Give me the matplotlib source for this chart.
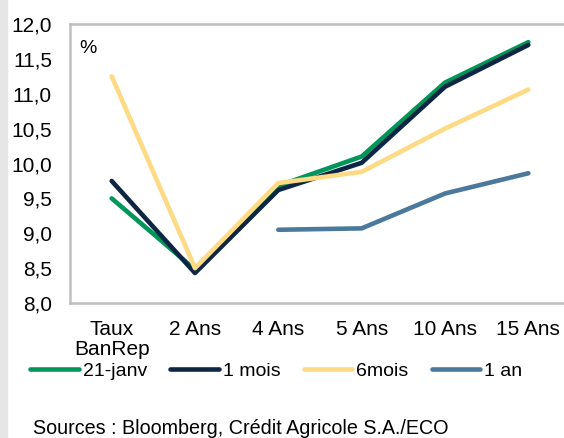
from matplotlib import pyplot as plt
from matplotlib.patches import Rectangle
import numpy as np

plt.rcParams['font.family'] = ['Liberation Sans', 'DejaVu Sans']

categories = ['Taux\nBanRep', '2 Ans', '4 Ans', '5 Ans', '10 Ans', '15 Ans']
jan21 = [9.50, 8.48, 9.68, 10.10, 11.16, 11.74]
mois1 = [9.75, 8.43, 9.62, 10.01, 11.10, 11.70]
mois6 = [11.25, 8.50, 9.72, 9.88, 10.50, 11.06]
an1 = [np.nan, np.nan, 9.05, 9.07, 9.57, 9.86]

series = [
    ('21-janv', jan21, '#00965A'),
    ('1 mois', mois1, '#0C2644'),
    ('6mois', mois6, '#FFDA85'),
    ('1 an', an1, '#4B799B'),
]

FS_TICK = 15
FS = 14

fig = plt.figure(figsize=(5.64, 4.38), dpi=100)
fig.patches.append(Rectangle((0, 0), 7 / 564, 1, transform=fig.transFigure,
                             color='#E6E6E6', zorder=0))
ax = fig.add_axes([70 / 564, 1 - 303 / 438, 500 / 564, 279 / 438])

x = np.arange(len(categories))
for label, vals, color in series:
    ax.plot(x, vals, color=color, lw=3.3, label=label, solid_capstyle='round',
            solid_joinstyle='round')

yt = np.arange(8.0, 12.01, 0.5)
ax.set_xlim(-0.5, len(categories) - 0.5)
ax.set_ylim(8.0, 12.0)
ax.set_yticks(yt)
ax.set_yticklabels([f'{v:.1f}'.replace('.', ',') for v in yt], fontsize=FS_TICK)
ax.set_xticks(x)
ax.set_xticklabels(categories, fontsize=FS_TICK, linespacing=1.1)
ax.tick_params(length=0, axis='y', pad=13)
ax.tick_params(length=0, axis='x', pad=12)
for side in ['left', 'top', 'bottom', 'right']:
    ax.spines[side].set_color('#BFBFBF')
    ax.spines[side].set_linewidth(1.8)

ax.text(0.018, 0.912, '%', transform=ax.transAxes, fontsize=FS, va='center', ha='left')

fig.legend(loc='center left', bbox_to_anchor=(30 / 564, 1 - 371 / 438), ncol=4,
           frameon=False, fontsize=FS, handlelength=2.5, handletextpad=0.2,
           columnspacing=1.2, borderaxespad=0, borderpad=0)

fig.text(33 / 564, 1 - 428 / 438, 'Sources : Bloomberg, Crédit Agricole S.A./ECO',
         fontsize=14.2, va='center', ha='left')

fig.savefig('out.png', dpi=100)
